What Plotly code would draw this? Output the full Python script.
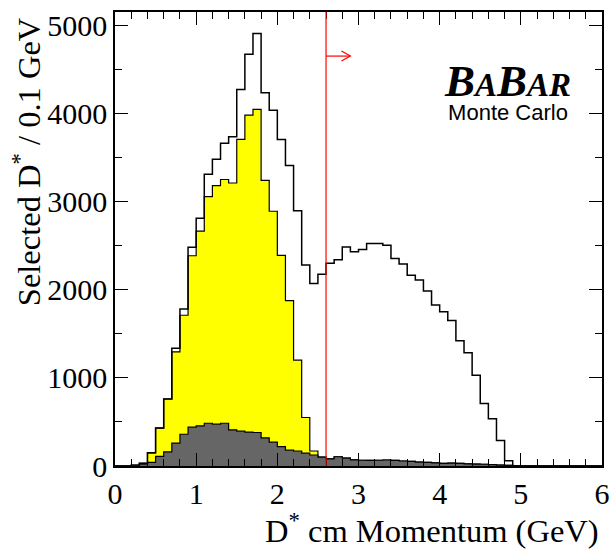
import numpy as np
import plotly.graph_objects as go

# D* centre-of-mass momentum spectrum, 0.1 GeV bins from 0 to 6 GeV
BIN_WIDTH = 0.1
edges = np.round(np.arange(0, 6.0 + BIN_WIDTH / 2, BIN_WIDTH), 1)

# all selected D* candidates (open histogram)
total = [0, 0, 10, 32, 150, 430, 760, 1335, 1780, 2480,
         2810, 3310, 3480, 3660, 3735, 4270, 4670, 4905, 4235, 4035,
         3705, 3410, 2895, 2280, 2070, 2175, 2300, 2340, 2485, 2430,
         2455, 2525, 2525, 2505, 2355, 2290, 2165, 2110, 1985, 1825,
         1750, 1650, 1420, 1285, 1030, 710, 535, 290, 60, 0,
         0, 0, 0, 0, 0, 0, 0, 0, 0, 0]

# yellow component
yellow = [0, 0, 0, 30, 150, 430, 760, 1295, 1710, 2385,
          2665, 3055, 3180, 3250, 3210, 3705, 3980, 4045, 3240, 2890,
          2390, 1875, 1200, 550, 170, 100, 80, 105, 90, 70,
          65, 63, 65, 68, 63, 57, 52, 45, 40, 35,
          30, 32, 30, 25, 22, 20, 15, 10, 6, 4,
          0, 0, 0, 0, 0, 0, 0, 0, 0, 0]

# grey component
grey = [0, 0, 0, 20, 40, 110, 160, 260, 360, 440,
        455, 485, 475, 485, 410, 395, 385, 380, 320, 270,
        220, 180, 170, 145, 125, 100, 80, 105, 90, 70,
        65, 63, 65, 68, 63, 57, 52, 45, 40, 35,
        30, 32, 30, 25, 22, 20, 15, 10, 6, 4,
        0, 0, 0, 0, 0, 0, 0, 0, 0, 0]

CUT = 2.6          # momentum cut (GeV)
ARROW_END = 2.9
ARROW_Y = 4650
Y_MAX = 5150

x_ticks = [0, 1, 2, 3, 4, 5, 6]
y_ticks = [0, 1000, 2000, 3000, 4000, 5000]

SERIF = "Liberation Serif, Times New Roman, serif"
SANS = "Liberation Sans, Arial, sans-serif"


def step_xy(values):
    xs = [edges[0]] + list(edges[:-1]) + [edges[-1]]
    ys = [0] + list(values) + [0]
    return xs, ys


fig = go.Figure()

xs, ys = step_xy(yellow)
fig.add_trace(go.Scatter(x=xs, y=ys, mode="lines", line_shape="hv",
                         fill="tozeroy", fillcolor="#ffff00",
                         line=dict(color="black", width=1.2),
                         showlegend=False, hoverinfo="skip"))

xs, ys = step_xy(grey)
fig.add_trace(go.Scatter(x=xs, y=ys, mode="lines", line_shape="hv",
                         fill="tozeroy", fillcolor="#666666",
                         line=dict(color="black", width=1.2),
                         showlegend=False, hoverinfo="skip"))

xs, ys = step_xy(total)
fig.add_trace(go.Scatter(x=xs, y=ys, mode="lines", line_shape="hv",
                         line=dict(color="black", width=1.5),
                         showlegend=False, hoverinfo="skip"))

# cut line and arrow
fig.add_shape(type="line", x0=CUT, x1=CUT, y0=0, y1=Y_MAX,
              line=dict(color="#ff0000", width=1.2), layer="above")
fig.add_shape(type="line", x0=CUT, x1=ARROW_END, y0=ARROW_Y, y1=ARROW_Y,
              line=dict(color="#ff0000", width=1.2), layer="above")
fig.add_shape(type="path", xsizemode="pixel", ysizemode="pixel",
              xanchor=ARROW_END, yanchor=ARROW_Y,
              path="M-9,5 L0,0 L-9,-5",
              line=dict(color="#ff0000", width=1.2), layer="above")

axis_common = dict(
    showline=True, linecolor="black", linewidth=1.5, mirror="allticks",
    ticks="inside", ticklen=13, tickwidth=1, tickcolor="black",
    showgrid=False, zeroline=False, automargin=False,
    tickfont=dict(family=SERIF, size=30, color="black"),
)

fig.update_xaxes(range=[0, 6], tickvals=x_ticks,
                 minor=dict(ticks="inside", ticklen=7, dtick=0.2,
                            tickcolor="black", showgrid=False),
                 **axis_common)
fig.update_yaxes(range=[0, Y_MAX], tickvals=y_ticks,
                 minor=dict(ticks="inside", ticklen=7, dtick=500,
                            tickcolor="black", showgrid=False),
                 **axis_common)

# axis titles, aligned to the far end of each axis
fig.add_annotation(text="D<sup>*</sup> cm Momentum (GeV)",
                   xref="paper", yref="paper", x=0.996, y=-0.1853,
                   xanchor="right", yanchor="bottom", showarrow=False,
                   borderpad=0,
                   font=dict(family=SERIF, size=32.5, color="black"))
fig.add_annotation(text="Selected D<sup>*</sup> / 0.1 GeV",
                   xref="paper", yref="paper", x=-0.18, y=0.67,
                   xanchor="center", yanchor="middle", textangle=-90,
                   showarrow=False,
                   font=dict(family=SERIF, size=32.5, color="black"))

# experiment label
label = ("<span style='font-size:45px'><b><i>B"
         "<span style='font-size:33px'>A</span>B"
         "<span style='font-size:33px'>AR</span></i></b></span><br>"
         f"<span style='font-family:{SANS};font-size:22px'>Monte Carlo</span>")
fig.add_annotation(text=label, xref="paper", yref="paper",
                   x=0.805, y=0.827, xanchor="center", yanchor="middle",
                   align="center", showarrow=False,
                   font=dict(family=SERIF, size=18.5, color="black"))

fig.update_layout(width=610, height=550,
                  margin=dict(l=115, r=8, t=12, b=84),
                  paper_bgcolor="white", plot_bgcolor="white")

fig.write_html("out.html")
